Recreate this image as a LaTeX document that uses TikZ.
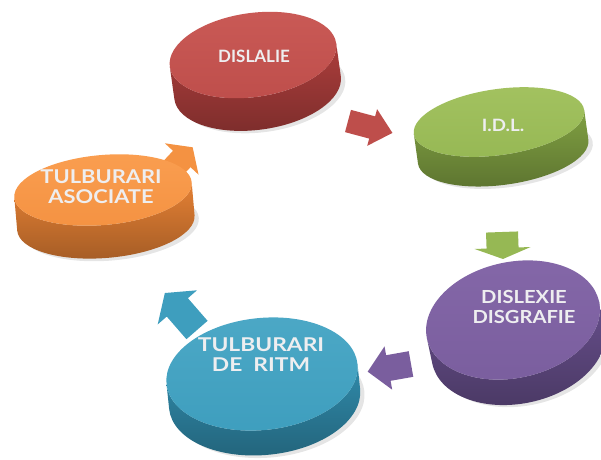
\documentclass[tikz,border=0pt]{standalone}
\usepackage{fontspec}
\setmainfont{Lato}
\definecolor{redlight}{RGB}{202,90,86}
\definecolor{redtop}{RGB}{190,78,75}
\definecolor{redside}{RGB}{172,62,60}
\definecolor{greenlight}{RGB}{163,194,96}
\definecolor{greentop}{RGB}{150,184,84}
\definecolor{greenside}{RGB}{128,160,66}
\definecolor{orangelight}{RGB}{250,158,80}
\definecolor{orangetop}{RGB}{244,146,66}
\definecolor{orangeside}{RGB}{228,128,52}
\definecolor{teallight}{RGB}{76,168,198}
\definecolor{tealtop}{RGB}{62,158,190}
\definecolor{tealside}{RGB}{48,138,170}
\definecolor{purplelight}{RGB}{132,103,168}
\definecolor{purpletop}{RGB}{122,94,158}
\definecolor{purpleside}{RGB}{102,78,138}
\definecolor{txt}{RGB}{238,238,240}
\tikzset{
  lbl/.style={font=\bfseries\fontsize{#1}{20}\selectfont, align=center, text=txt, inner sep=0pt, transform shape},
}
% disc: name, cx, cy, rx, ry, thickness, rotation, colour prefix
\newcommand\drawdisc[8]{%
\begin{scope}[shift={(#2,#3)},x=1pt,y=1pt,rotate=#7]
\fill[black,opacity=0.10] (4,-#6-3) ellipse[x radius=#4, y radius=#5];
\shade[top color=#8side,bottom color=#8side!72!black] (-#4,0) -- (-#4,-#6)
  arc[start angle=180,end angle=360,x radius=#4,y radius=#5] -- (#4,0)
  arc[start angle=0,end angle=-180,x radius=#4,y radius=#5] -- cycle;
\shade[top color=#8light,bottom color=#8top] (0,0) ellipse[x radius=#4,y radius=#5];
\coordinate (#1) at (0,0);
\end{scope}}
% block arrow: name, x, y, angle, length, shaft half, head half, head length, colour
\newcommand\blockarrow[9]{%
\begin{scope}[shift={(#2,#3)},x=1pt,y=1pt,rotate=#4]
\coordinate (#1) at (0,0);
\fill[#9] (0,-#6) -- (#5-#8,-#6) -- (#5-#8,-#7) -- (#5,0) -- (#5-#8,#7) -- (#5-#8,#6) -- (0,#6) -- cycle;
\end{scope}}
\begin{document}
\begin{tikzpicture}[x=1pt,y=-1pt]
\useasboundingbox[fill=white] (0,0) rectangle (601,459);
% arrows
\blockarrow{ar}{348}{121}{-15}{46}{11.5}{19}{21}{redtop}
\blockarrow{ag}{502}{232}{-88}{27}{16}{28}{11}{greentop}
\blockarrow{ap}{411}{364}{190}{44}{13}{22}{21}{purpletop}
\blockarrow{at}{197}{330}{131}{49}{14}{26}{19}{tealtop}
\blockarrow{ao}{164}{178}{47}{42}{12}{23}{16}{orangetop}
% discs
\drawdisc{dr}{253}{55}{84}{42}{33}{8}{red}
\drawdisc{dg}{499}{122}{86}{33}{30}{8}{green}
\drawdisc{do}{103}{190}{89}{35}{33}{5}{orange}
\drawdisc{dt}{262}{374}{96}{56}{25}{6}{teal}
\drawdisc{dp}{513}{320}{88}{58}{26}{12}{purple}
% labels
\node[lbl=17] (lr) at (254,56) {DISLALIE};
\node[lbl=17,xscale=1.1] (lg) at (503,125) {I.D.L.};
\node[lbl=19,xscale=1.15] (lo) at (101,187) {TULBURARI\\ASOCIATE};
\node[lbl=19,xscale=1.2] (lt) at (261,355) {TULBURARI\\DE\ \ RITM};
\node[lbl=18,xscale=1.12] (lp) at (524,307) {DISLEXIE\\DISGRAFIE};
\end{tikzpicture}
\end{document}
